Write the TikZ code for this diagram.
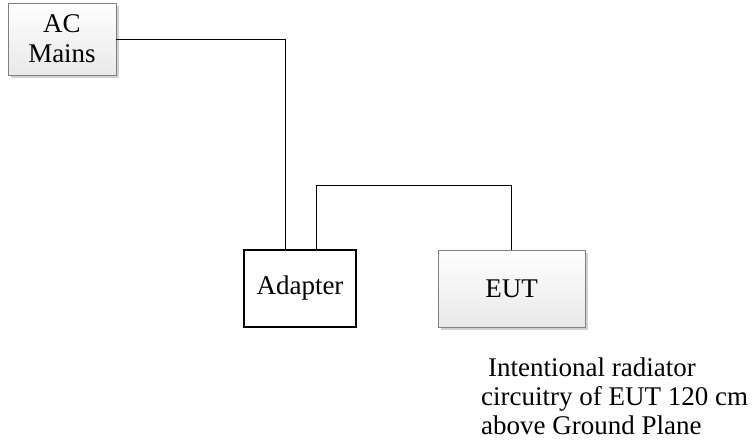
\documentclass[tikz,border=0pt]{standalone}
\usepackage{fontspec}
\setmainfont{Liberation Serif}
\begin{document}
\begin{tikzpicture}[x=1pt,y=-1pt,
  txt/.style={font=\fontsize{27}{29}\selectfont},
  graybox/.style={draw=black!50, line width=0.8pt, top color=white, bottom color=black!9,
    inner sep=0pt, align=center, txt},
  wire/.style={draw=black, line width=0.9pt}]
\useasboundingbox (0,0) rectangle (755,443);
% shadows
\fill[black!18] (11,6) rectangle (119,78);
\fill[black!18] (441,253) rectangle (588,330);
\node[graybox, minimum width=108pt, minimum height=72pt] (ac) at (62,39) {\raisebox{-2pt}{AC}\\[1pt]\raisebox{-2pt}{Mains}};
\node[draw=black, line width=1.8pt, fill=white, minimum width=112pt, minimum height=77pt, inner sep=0pt, txt] (adapter) at (300,288.5) {\raisebox{-5pt}{Adapter}};
\node[graybox, minimum width=147pt, minimum height=77pt] (eut) at (511.5,288.5) {EUT};
\draw[wire] (ac.east) -| ([xshift=-15pt]adapter.north);
\draw[wire] ([xshift=16pt]adapter.north) -- ++(0,-64) -| (eut.north);
\node[txt, anchor=north west, align=left, inner sep=0pt] (note) at (481,358)
  {\hspace*{7pt}Intentional radiator\\circuitry of EUT 120 cm\\above Ground Plane};
\end{tikzpicture}
\end{document}
